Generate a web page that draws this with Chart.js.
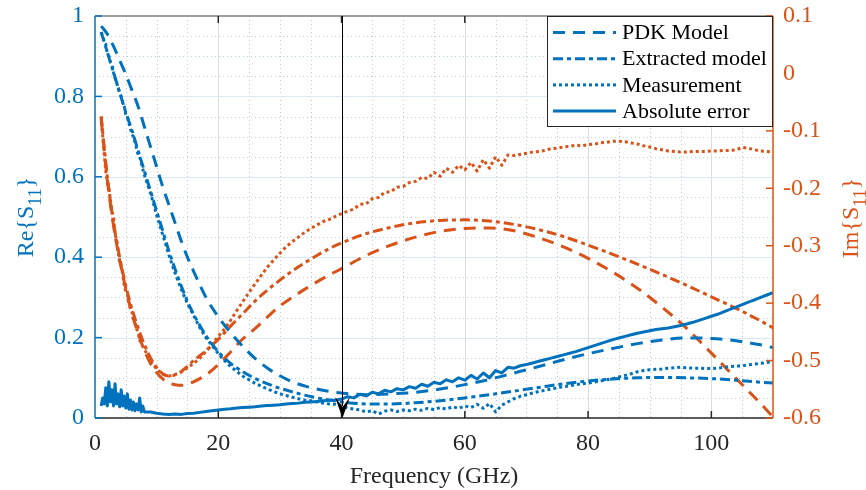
<!DOCTYPE html>
<html>
<head>
<meta charset="utf-8">
<script src="https://cdn.jsdelivr.net/npm/chart.js@4.4.1/dist/chart.umd.min.js"></script>
<style>
html,body{margin:0;padding:0;background:#fff}
canvas{display:block}
</style>
</head>
<body>
<canvas id="chart" width="866" height="490"></canvas>
<script>
// frequency points (GHz)
const freqModel = [1,2,3,4,5,6,7,8,9,10,11,12,13,14,15,16,
  18,20,22,24,26,28,30,32,34,36,38,40,
  44,48,52,56,60,64,68,72,76,80,84,88,92,96,100,104,108,110]
const freqMeas = [1,1.25,1.5,1.75,2,2.25,2.5,2.75,3,3.25,3.5,3.75,4,4.25,4.5,4.75,
  5,5.25,5.5,5.75,6,6.25,6.5,6.75,7,7.25,7.5,7.75,8,
  9,10,11,12,13,14,15,16,17,18,
  19,20,21,22,23,24,25,26,27,28,
  29,30,31,32,33,34,35,36,37,38,
  39,40,41,42,43,44,45,46,47,48,
  49,50,51,52,53,54,55,56,57,58,
  59,60,61,62,63,64,65,66,67,68,
  69,70,71,72,73,74,75,76,77,78,
  79,80,81,82,83,84,85,86,87,88,
  89,90,91,92,93,94,95,96,97,98,
  99,100,101,102,103,104,105,106,107,108,
  109,110]

// Re{S11} (left axis)
const rePdk = [0.975,0.955,0.925,0.89,0.855,0.815,0.775,0.725,0.675,0.625,0.575,0.53,0.485,0.44,0.4,0.365,
  0.3,0.252,0.212,0.178,0.148,0.124,0.105,0.09,0.08,0.072,0.066,0.062,
  0.058,0.06,0.064,0.072,0.083,0.096,0.112,0.128,0.145,0.16,0.173,0.185,0.194,0.199,0.198,0.192,0.182,0.175]
const reExtracted = [0.96,0.91,0.86,0.81,0.76,0.715,0.665,0.615,0.565,0.515,0.465,0.415,0.37,0.328,0.29,0.258,
  0.205,0.165,0.136,0.115,0.098,0.085,0.074,0.065,0.057,0.05,0.045,0.04,
  0.035,0.035,0.038,0.043,0.05,0.058,0.067,0.076,0.085,0.092,0.097,0.1,0.101,0.1,0.098,0.094,0.089,0.087]
const reMeas = [0.96,0.95,0.935,0.93,0.905,0.9,0.885,0.88,0.86,0.845,0.835,0.82,0.81,0.8,0.785,0.775,
  0.755,0.75,0.735,0.72,0.705,0.7,0.685,0.67,0.655,0.65,0.635,0.62,0.605,
  0.56,0.505,0.455,0.405,0.36,0.32,0.285,0.255,0.225,0.2,
  0.18,0.16,0.143,0.128,0.116,0.104,0.095,0.086,0.079,0.072,
  0.066,0.06,0.056,0.052,0.048,0.045,0.043,0.04,0.037,0.035,
  0.034,0.03,0.025,0.022,0.02,0.015,0.018,0.01,0.017,0.02,
  0.016,0.02,0.018,0.022,0.019,0.024,0.021,0.026,0.022,0.028,
  0.024,0.03,0.026,0.034,0.024,0.036,0.015,0.032,0.04,0.048,
  0.054,0.058,0.062,0.066,0.069,0.072,0.075,0.078,0.08,0.083,
  0.085,0.087,0.089,0.092,0.095,0.098,0.102,0.106,0.11,0.115,
  0.118,0.12,0.121,0.122,0.124,0.125,0.126,0.125,0.124,0.124,
  0.123,0.123,0.124,0.126,0.128,0.129,0.13,0.132,0.134,0.136,
  0.138,0.14]
const absError = [0.03,0.05,0.035,0.075,0.03,0.09,0.04,0.07,0.03,0.085,0.035,0.06,0.028,0.07,0.03,0.055,
  0.025,0.06,0.022,0.045,0.02,0.04,0.018,0.035,0.02,0.05,0.015,0.03,0.015,
  0.015,0.012,0.01,0.009,0.01,0.009,0.011,0.012,0.014,0.016,
  0.018,0.02,0.022,0.023,0.025,0.026,0.027,0.028,0.03,0.031,
  0.032,0.033,0.035,0.036,0.037,0.039,0.04,0.041,0.043,0.044,
  0.045,0.047,0.053,0.05,0.059,0.055,0.064,0.06,0.069,0.065,
  0.073,0.07,0.078,0.074,0.084,0.079,0.089,0.085,0.095,0.09,
  0.1,0.094,0.106,0.097,0.112,0.1,0.118,0.112,0.126,0.124,
  0.13,0.133,0.137,0.141,0.145,0.149,0.153,0.157,0.161,0.165,
  0.17,0.175,0.18,0.185,0.19,0.195,0.199,0.203,0.207,0.211,
  0.214,0.217,0.22,0.222,0.224,0.227,0.23,0.234,0.238,0.243,
  0.248,0.253,0.258,0.264,0.27,0.276,0.282,0.288,0.294,0.3,
  0.306,0.312]

// Im{S11} (right axis)
const imPdk = [-0.08,-0.185,-0.265,-0.325,-0.375,-0.418,-0.453,-0.482,-0.505,-0.521,-0.532,-0.539,-0.542,-0.543,-0.541,-0.537,
  -0.525,-0.507,-0.485,-0.462,-0.444,-0.424,-0.405,-0.39,-0.376,-0.363,-0.351,-0.34,
  -0.317,-0.299,-0.285,-0.275,-0.27,-0.269,-0.274,-0.286,-0.302,-0.322,-0.346,-0.374,-0.407,-0.444,-0.487,-0.531,-0.575,-0.598]
const imExtracted = [-0.075,-0.18,-0.26,-0.32,-0.37,-0.41,-0.443,-0.472,-0.495,-0.512,-0.523,-0.527,-0.525,-0.519,-0.51,-0.5,
  -0.483,-0.463,-0.44,-0.418,-0.396,-0.377,-0.36,-0.344,-0.33,-0.317,-0.305,-0.295,
  -0.279,-0.268,-0.26,-0.256,-0.255,-0.257,-0.263,-0.272,-0.284,-0.299,-0.315,-0.332,-0.35,-0.369,-0.389,-0.409,-0.431,-0.443]
const imMeas = [-0.075,-0.11,-0.14,-0.17,-0.19,-0.2,-0.22,-0.24,-0.25,-0.28,-0.29,-0.31,-0.33,-0.335,-0.35,-0.37,
  -0.38,-0.385,-0.4,-0.41,-0.415,-0.43,-0.435,-0.445,-0.45,-0.465,-0.468,-0.475,-0.48,
  -0.5,-0.515,-0.524,-0.527,-0.524,-0.52,-0.513,-0.505,-0.496,-0.484,
  -0.471,-0.458,-0.445,-0.43,-0.413,-0.397,-0.381,-0.366,-0.351,-0.337,
  -0.325,-0.313,-0.302,-0.293,-0.285,-0.277,-0.27,-0.264,-0.258,-0.254,
  -0.249,-0.244,-0.24,-0.236,-0.228,-0.227,-0.218,-0.216,-0.207,-0.206,
  -0.198,-0.197,-0.19,-0.188,-0.181,-0.183,-0.172,-0.179,-0.165,-0.172,
  -0.16,-0.168,-0.155,-0.17,-0.15,-0.165,-0.145,-0.16,-0.142,-0.143,
  -0.141,-0.139,-0.137,-0.136,-0.134,-0.131,-0.13,-0.128,-0.127,-0.125,
  -0.126,-0.124,-0.123,-0.121,-0.12,-0.118,-0.118,-0.119,-0.121,-0.123,
  -0.126,-0.128,-0.131,-0.133,-0.135,-0.136,-0.137,-0.137,-0.136,-0.136,
  -0.136,-0.135,-0.135,-0.134,-0.134,-0.133,-0.129,-0.13,-0.133,-0.135,
  -0.136,-0.137]

// ticks
const xTicks = [0,20,40,60,80,100]
const xMinor = [5,10,15,25,30,35,45,50,55,65,70,75,85,90,95,105]
const yLeftTicks = [0,0.2,0.4,0.6,0.8,1]
const yLeftLabels = ['0','0.2','0.4','0.6','0.8','1']
const yLeftMinor = [0.05,0.1,0.15,0.25,0.3,0.35,0.45,0.5,0.55,0.65,0.7,0.75,0.85,0.9,0.95]
const yRightTicks = [-0.6,-0.5,-0.4,-0.3,-0.2,-0.1,0,0.1]
const yRightLabels = ['-0.6','-0.5','-0.4','-0.3','-0.2','-0.1','0','0.1']
const markerFreq = 40

const BLUE = '#0072BD'
const ORANGE = '#D95319'
const AXIS = '#262626'
const SERIF = "'Liberation Serif','Times New Roman',serif"

function pts(xs, ys){ return xs.map((x,i)=>({x:x, y:ys[i]})) }

const dashed = [12,8]
const dashDot = [10,4,4,4]
const dotted = [3,3]

function hline(ctx,x1,y1,x2,y2){ ctx.beginPath(); ctx.moveTo(x1,y1); ctx.lineTo(x2,y2); ctx.stroke() }

const matlabLook = {
  id:'matlabLook',
  beforeDatasetsDraw(chart){
    const {ctx, chartArea:a, scales} = chart
    const x = scales.x, yL = scales.yL
    ctx.save()
    ctx.lineWidth = 1
    // minor grid
    ctx.setLineDash([1,3])
    ctx.strokeStyle = '#c6c6c6'
    xMinor.forEach(v=>{ const p = Math.round(x.getPixelForValue(v))+0.5; hline(ctx,p,a.top,p,a.bottom) })
    ctx.strokeStyle = '#b9d2ea'
    yLeftMinor.forEach(v=>{ const p = Math.round(yL.getPixelForValue(v))+0.5; hline(ctx,a.left,p,a.right,p) })
    // major grid
    ctx.setLineDash([])
    ctx.strokeStyle = '#dddddd'
    xTicks.slice(1).forEach(v=>{ const p = Math.round(x.getPixelForValue(v))+0.5; hline(ctx,p,a.top,p,a.bottom) })
    ctx.strokeStyle = '#dbe7f3'
    yLeftTicks.slice(1,-1).forEach(v=>{ const p = Math.round(yL.getPixelForValue(v))+0.5; hline(ctx,a.left,p,a.right,p) })
    ctx.restore()
  },
  afterDatasetsDraw(chart){
    const {ctx, chartArea:a, scales} = chart
    const x = scales.x, yL = scales.yL, yR = scales.yR
    ctx.save()
    ctx.setLineDash([])
    // box
    ctx.lineWidth = 1.5
    ctx.strokeStyle = '#808080'
    hline(ctx,a.left,a.top,a.right,a.top)
    ctx.strokeStyle = AXIS
    hline(ctx,a.left,a.bottom,a.right,a.bottom)
    ctx.strokeStyle = BLUE
    hline(ctx,a.left,a.top,a.left,a.bottom)
    ctx.strokeStyle = ORANGE
    hline(ctx,a.right,a.top,a.right,a.bottom)
    // ticks
    ctx.lineWidth = 1.5
    ctx.strokeStyle = AXIS
    xTicks.slice(1).forEach(v=>{
      const p = x.getPixelForValue(v)
      hline(ctx,p,a.bottom,p,a.bottom-7)
      hline(ctx,p,a.top,p,a.top+7)
    })
    ctx.strokeStyle = BLUE
    yLeftTicks.forEach(v=>{ const p = yL.getPixelForValue(v); hline(ctx,a.left,p,a.left+7,p) })
    ctx.strokeStyle = ORANGE
    yRightTicks.forEach(v=>{ const p = yR.getPixelForValue(v); hline(ctx,a.right,p,a.right-7,p) })

    // marker line with arrow at 40 GHz
    const mx = Math.round(x.getPixelForValue(markerFreq))+0.5
    ctx.strokeStyle = '#000'
    ctx.lineWidth = 1
    hline(ctx,mx,a.top,mx,a.bottom-12)
    ctx.fillStyle = '#000'
    ctx.beginPath()
    ctx.moveTo(mx,a.bottom)
    ctx.lineTo(mx-7.5,a.bottom-21)
    ctx.lineTo(mx,a.bottom-11)
    ctx.lineTo(mx+7.5,a.bottom-21)
    ctx.closePath()
    ctx.fill()

    // legend
    const bw = 226, bh = 111
    const bx = a.right-bw, by = a.top
    ctx.fillStyle = '#fff'
    ctx.fillRect(bx,by,bw,bh)
    ctx.strokeStyle = AXIS
    ctx.lineWidth = 1
    ctx.strokeRect(bx+0.5,by+0.5,bw-1,bh-1)
    ctx.font = '22px '+SERIF
    ctx.textBaseline = 'middle'
    ctx.textAlign = 'left'
    chart.data.datasets.slice(0,4).forEach((ds,i)=>{
      const ry = by+16.5+26.2*i
      ctx.strokeStyle = ds.borderColor
      ctx.lineWidth = ds.borderWidth
      ctx.setLineDash(ds.borderDash || [])
      hline(ctx,bx+6,ry,bx+69,ry)
      ctx.setLineDash([])
      ctx.fillStyle = '#000'
      ctx.fillText(ds.label,bx+75,ry+1)
    })
    ctx.restore()
  },
  afterDraw(chart){
    const {ctx, chartArea:a} = chart
    const cy = (a.top+a.bottom)/2
    ctx.save()
    drawSubTitle(ctx,33,cy,'Re{S','11','}',BLUE)
    drawSubTitle(ctx,858,cy+1,'Im{S','11','}',ORANGE)
    ctx.font = '24px '+SERIF
    ctx.fillStyle = AXIS
    ctx.textAlign = 'center'
    ctx.textBaseline = 'alphabetic'
    ctx.fillText('Frequency (GHz)',(a.left+a.right)/2,483)
    ctx.restore()
  }
}

function drawSubTitle(ctx,cx,cy,main,sub,tail,color){
  ctx.save()
  ctx.translate(cx,cy)
  ctx.rotate(-Math.PI/2)
  ctx.fillStyle = color
  ctx.textBaseline = 'alphabetic'
  ctx.textAlign = 'left'
  ctx.font = '24px '+SERIF
  const w1 = ctx.measureText(main).width
  const w3 = ctx.measureText(tail).width
  ctx.font = '18px '+SERIF
  const w2 = ctx.measureText(sub).width
  let x0 = -(w1+w2+w3)/2
  ctx.font = '24px '+SERIF
  ctx.fillText(main,x0,0)
  ctx.font = '18px '+SERIF
  ctx.fillText(sub,x0+w1,8)
  ctx.font = '24px '+SERIF
  ctx.fillText(tail,x0+w1+w2,0)
  ctx.restore()
}

function lineDs(label,xs,ys,axis,color,dash,width){
  return {
    label:label, data:pts(xs,ys), yAxisID:axis,
    borderColor:color, backgroundColor:color, borderWidth:width,
    borderDash:dash, pointRadius:0, pointHoverRadius:0, fill:false,
    tension:0, borderCapStyle:'butt', borderJoinStyle:'round'
  }
}

const datasets = [
  lineDs('PDK Model',freqModel,rePdk,'yL',BLUE,dashed,3),
  lineDs('Extracted model',freqModel,reExtracted,'yL',BLUE,dashDot,3),
  lineDs('Measurement',freqMeas,reMeas,'yL',BLUE,dotted,3),
  lineDs('Absolute error',freqMeas,absError,'yL',BLUE,[],3),
  lineDs('PDK Model (Im)',freqModel,imPdk,'yR',ORANGE,dashed,3),
  lineDs('Extracted model (Im)',freqModel,imExtracted,'yR',ORANGE,dashDot,3),
  lineDs('Measurement (Im)',freqMeas,imMeas,'yR',ORANGE,dotted,3)
]
datasets.forEach((d,i)=>{ if(i!==2 && i!==3 && i!==6) d.cubicInterpolationMode = 'monotone' })

const tickFont = {family:SERIF, size:24}

function noPad(s){ s.paddingTop = 0; s.paddingBottom = 0; s.paddingLeft = 0; s.paddingRight = 0 }

new Chart(document.getElementById('chart'),{
  type:'line',
  data:{datasets:datasets},
  options:{
    responsive:false,
    animation:false,
    devicePixelRatio:1,
    layout:{padding:{top:16,left:0,right:0,bottom:0}},
    plugins:{legend:{display:false}, tooltip:{enabled:false}},
    scales:{
      x:{
        type:'linear', position:'bottom', min:0, max:110,
        grid:{display:false, drawTicks:false}, border:{display:false},
        afterBuildTicks:s=>{ s.ticks = xTicks.map(v=>({value:v})) },
        afterFit:s=>{ s.height = 72; noPad(s) },
        ticks:{autoSkip:false, maxRotation:0, padding:11, color:AXIS, font:tickFont,
          callback:(v,i)=>String(xTicks[i])}
      },
      yL:{
        type:'linear', position:'left', min:0, max:1,
        grid:{display:false, drawTicks:false}, border:{display:false},
        afterBuildTicks:s=>{ s.ticks = yLeftTicks.map(v=>({value:v})) },
        afterFit:s=>{ s.width = 95; noPad(s) },
        ticks:{autoSkip:false, padding:11, color:BLUE, font:tickFont,
          callback:(v,i)=>yLeftLabels[i]}
      },
      yR:{
        type:'linear', position:'right', min:-0.6, max:0.1,
        grid:{display:false, drawTicks:false}, border:{display:false},
        afterBuildTicks:s=>{ s.ticks = yRightTicks.map(v=>({value:v})) },
        afterFit:s=>{ s.width = 93; noPad(s) },
        ticks:{autoSkip:false, padding:10, color:ORANGE, font:tickFont,
          callback:(v,i)=>yRightLabels[i]}
      }
    }
  },
  plugins:[matlabLook]
})
</script>
</body>
</html>
